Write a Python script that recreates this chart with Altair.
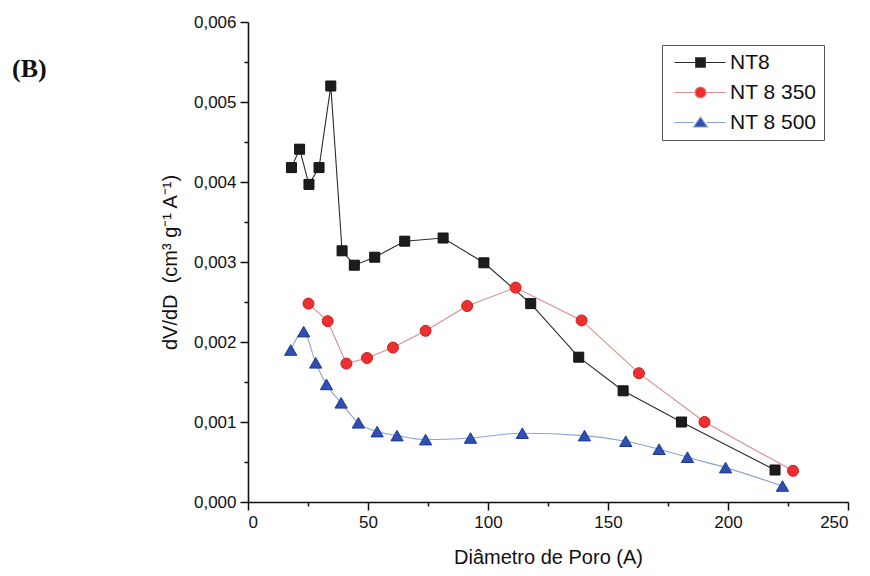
import altair as alt
import pandas as pd

series_names = ["NT8", "NT 8 350", "NT 8 500"]

nt8_x = [18.1, 21.5, 25.4, 29.6, 34.5, 39.2, 44.3, 52.8, 65.3, 81.3, 98.3, 117.8, 137.8, 156.3, 180.6, 219.6]
nt8_y = [0.00418, 0.00441, 0.00397, 0.00418, 0.00520, 0.00314, 0.00296, 0.00306, 0.00326, 0.00330,
         0.00299, 0.00248, 0.00181, 0.00139, 0.00100, 0.00040]

nt350_x = [25.2, 33.2, 41.0, 49.6, 60.4, 74.0, 91.3, 111.5, 139.0, 162.9, 190.2, 227.1]
nt350_y = [0.00248, 0.00226, 0.00173, 0.00180, 0.00193, 0.00214, 0.00245, 0.00268, 0.00227, 0.00161,
           0.00100, 0.00039]

nt500_x = [17.8, 23.2, 28.2, 32.7, 38.8, 46.0, 53.8, 62.1, 74.0, 92.7, 114.3, 140.2, 157.4, 171.3,
           183.1, 199.0, 222.7]
nt500_y = [0.00190, 0.00213, 0.00174, 0.00147, 0.00124, 0.00099, 0.00088, 0.00083, 0.00078, 0.00080,
           0.00086, 0.00083, 0.00076, 0.00066, 0.00056, 0.00043, 0.00020]

x_ticks = [0, 25, 50, 75, 100, 125, 150, 175, 200, 225, 250]
y_ticks = [round(i * 0.0005, 4) for i in range(13)]

marker_fill = ["#1c1c1c", "#ee2f2f", "#2f4fb5"]
marker_stroke = ["#111111", "#c41f1f", "#1d3a90"]
line_color = ["#2b2b2b", "#d98c8c", "#8aa4d2"]
shapes = ["square", "circle", "triangle-up"]
sizes = [100, 121, 150]
interps = ["linear", "linear", "monotone"]

# legend symbols: a line with the marker on it (path units: 1 unit = 5 px at size 100)
legend_paths = [
    "M-1,0H3.25M5.15,0H9.2M3.25,-0.95H5.15V0.95H3.25Z",
    "M-1,0H3.1M5.3,0H9.2M5.3,0A1.1,1.1,0,1,1,3.1,0A1.1,1.1,0,1,1,5.3,0Z",
    "M-1,0H2.9M5.5,0H9.2M4.2,-1.1L5.6,0.9L2.8,0.9Z",
]

frames = []
for name, xs, ys in zip(series_names, [nt8_x, nt350_x, nt500_x], [nt8_y, nt350_y, nt500_y]):
    frames.append(pd.DataFrame({"d": xs, "v": ys, "series": name}))
df = pd.concat(frames, ignore_index=True)

x_axis = alt.Axis(
    values=x_ticks,
    labelExpr="datum.value % 50 === 0 ? datum.label : ''",
    format="d",
    tickSize={"condition": {"test": "datum.value % 50 === 0", "value": 8}, "value": 4},
    grid=False,
    titlePadding=17,
)
y_axis = alt.Axis(
    values=y_ticks,
    labelExpr="round(datum.value*10000) % 10 === 0 ? replace(format(datum.value, '.3f'), '.', ',') : ''",
    tickSize={"condition": {"test": "round(datum.value*10000) % 10 === 0", "value": 8}, "value": 4},
    grid=False,
    titlePadding=13,
)

X = alt.X("d:Q", scale=alt.Scale(domain=[0, 250], nice=False, zero=False), axis=x_axis,
          title="Diâmetro de Poro (A)")
Y = alt.Y("v:Q", scale=alt.Scale(domain=[0, 0.006], nice=False, zero=False), axis=y_axis,
          title="dV/dD\u00a0\u00a0(cm³ g⁻¹ A⁻¹)")

layers = []
for i, name in enumerate(series_names):
    sub = alt.Chart(df).transform_filter(alt.datum.series == name)
    layers.append(
        sub.mark_line(color=line_color[i], strokeWidth=1.1, interpolate=interps[i]).encode(x=X, y=Y)
    )
for i, name in enumerate(series_names):
    sub = alt.Chart(df).transform_filter(alt.datum.series == name)
    layers.append(
        sub.mark_point(shape=shapes[i], filled=True, fill=marker_fill[i], stroke=marker_stroke[i],
                       strokeWidth=1, size=sizes[i], opacity=1).encode(x=X, y=Y)
    )

leg = alt.Legend(
    title=None, orient="none", legendX=414, legendY=23,
    labelFont="Liberation Sans", labelFontSize=21, labelColor="#111111",
    labelOffset=40, symbolSize=100, symbolStrokeWidth=1.2, symbolOpacity=1,
    padding=7, rowPadding=8, strokeColor="#555555", fillColor="white",
)
legend_layer = alt.Chart(df).transform_filter("datum.d < 0").mark_point(filled=True, opacity=1).encode(
    x=X, y=Y,
    shape=alt.Shape("series:N", scale=alt.Scale(domain=series_names, range=legend_paths), legend=leg),
    fill=alt.Fill("series:N", scale=alt.Scale(domain=series_names, range=marker_fill), legend=leg),
    stroke=alt.Stroke("series:N", scale=alt.Scale(domain=series_names, range=line_color), legend=leg),
)
layers.append(legend_layer)

label_b = alt.Chart(pd.DataFrame({"t": ["(B)"]})).mark_text(
    font="Liberation Serif", fontWeight="bold", fontSize=26, align="left", baseline="middle", color="#111111"
).encode(x=alt.value(-236), y=alt.value(47), text="t:N")
layers.append(label_b)

chart = alt.layer(*layers).properties(
    width=600, height=480,
    autosize=alt.AutoSizeParams(type="none"),
    padding={"left": 240, "top": 14, "right": 14, "bottom": 74},
).configure_view(stroke=None).configure_axis(
    labelFont="Liberation Sans", labelFontSize=17, labelColor="#111111",
    titleFont="Liberation Sans", titleFontSize=20, titleFontWeight="normal", titleColor="#111111",
    domainColor="#111111", domainWidth=1.6, tickColor="#111111", tickWidth=1.5, labelPadding=4,
)

chart.save("out.html", embed_options={"renderer": "svg", "actions": False})
